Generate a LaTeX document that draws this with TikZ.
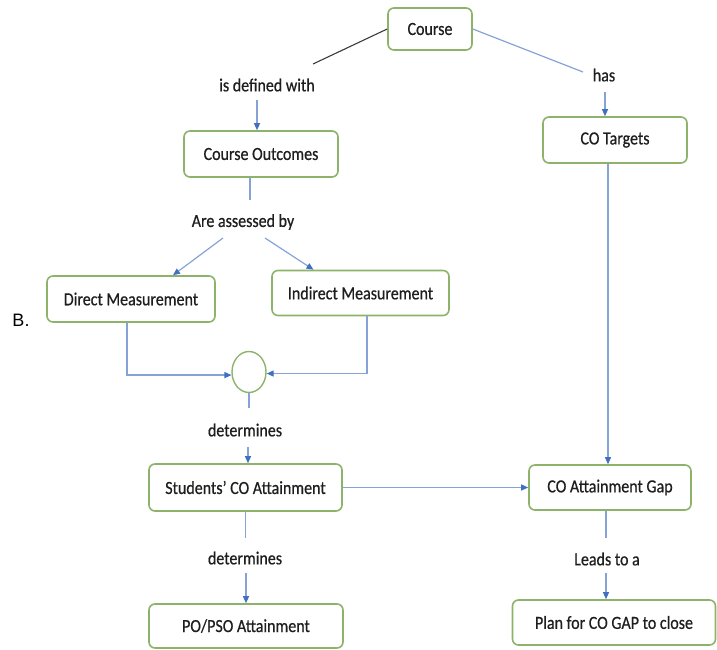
\documentclass[tikz,border=0pt]{standalone}
\usepackage{fontspec}
\setmainfont{Carlito}[FakeStretch=0.865,FakeBold=0.6]
\newfontfamily\labelfont{Liberation Sans}
\usetikzlibrary{arrows.meta,shapes.geometric,calc}
\definecolor{boxgreen}{HTML}{8DB36A}
\definecolor{linkblue}{HTML}{86A2D6}
\definecolor{tipblue}{HTML}{4270C0}
\definecolor{darklink}{HTML}{3A3A3A}
\definecolor{inktext}{HTML}{1E1E1E}
\begin{document}
\begin{tikzpicture}[x=1pt,y=-1pt,
  every node/.style={font=\fontsize{18.5}{21}\selectfont, text=inktext, inner sep=0pt},
  conceptbox/.style={draw=boxgreen, line width=1.6pt, rounded corners=6pt, fill=white},
  link/.style={draw=linkblue, line width=1.2pt},
  arrowlink/.style={link, -{Triangle[length=7pt,width=6pt,color=tipblue]}},
  blacklink/.style={draw=darklink, line width=1.1pt}]
\useasboundingbox (0,0) rectangle (717,650);

% concept boxes
\node[conceptbox, minimum width=84pt, minimum height=42pt] (course) at (430,29) {Course};
\node[conceptbox, minimum width=144pt, minimum height=46pt] (targets) at (615,140) {CO Targets};
\node[conceptbox, minimum width=154pt, minimum height=46pt] (outcomes) at (261,154) {Course Outcomes};
\node[conceptbox, minimum width=168pt, minimum height=46pt] (direct) at (131,299) {Direct Measurement};
\node[conceptbox, minimum width=177pt, minimum height=45pt] (indirect) at (360.5,293) {Indirect Measurement};
\node[draw=boxgreen, line width=1.4pt, ellipse, minimum width=34pt, minimum height=41pt] (join) at (249,372) {};
\node[conceptbox, minimum width=193pt, minimum height=47pt] (students) at (245.5,487.5) {Students’ CO Attainment};
\node[conceptbox, minimum width=162pt, minimum height=45pt] (gap) at (610,487.5) {CO Attainment Gap};
\node[conceptbox, minimum width=194pt, minimum height=44pt] (popso) at (246,626) {PO/PSO Attainment};
\node[conceptbox, minimum width=203pt, minimum height=45pt] (plan) at (614,622.5) {Plan for CO GAP to close};

% link phrases
\node (defined) at (267,85) {is defined with};
\node (has) at (604,75) {has};
\node (assessed) at (243,222) {Are assessed by};
\node (detA) at (245,430) {determines};
\node (detB) at (245,558) {determines};
\node (leads) at (607,559) {Leads to a};
\node[font=\labelfont\fontsize{18}{20}\selectfont, text=black] (mark) at (21,320) {B.};

% free ends of the connectors
\coordinate (defTop) at (313,64);
\coordinate (defLow) at (257,100);
\coordinate (hasTop) at (583,72);
\coordinate (hasLow) at (605,92);
\coordinate (outLow) at (250,200);
\coordinate (asL) at (223,238);
\coordinate (asR) at (265,238);
\coordinate (joinLow) at (249,408);
\coordinate (detAlow) at (248,447);
\coordinate (stLow) at (245.5,538);
\coordinate (detBlow) at (246,573);
\coordinate (gapLow) at (606,538);
\coordinate (leadsLow) at (606,573);

% connectors
\draw[blacklink] (course.west) -- (defTop);
\draw[link] (course.east) -- (hasTop);
\draw[arrowlink] (defLow) -- (defLow |- outcomes.north);
\draw[arrowlink] (hasLow) -- (hasLow |- targets.north);
\draw[link] (outcomes.south -| outLow) -- (outLow);
\draw[arrowlink] (asL) -- ($(direct.north)+(42,0)$);
\draw[arrowlink] (asR) -- ($(indirect.north)+(-47,0)$);
\draw[arrowlink] ($(direct.south)+(-4,0)$) |- (join.190);
\draw[arrowlink] ($(indirect.south)+(6.5,0)$) |- (join.-5);
\draw[link] (join.south) -- (joinLow);
\draw[arrowlink] (detAlow) -- (detAlow |- students.north);
\draw[link] (students.south) -- (stLow);
\draw[arrowlink] (detBlow) -- (detBlow |- popso.north);
\draw[arrowlink] (students.east) -- (gap.west);
\draw[arrowlink] ($(targets.south)+(-7,0)$) -- ($(gap.north)+(-2,0)$);
\draw[link] (gap.south -| gapLow) -- (gapLow);
\draw[arrowlink] (leadsLow) -- (leadsLow |- plan.north);
\end{tikzpicture}
\end{document}
